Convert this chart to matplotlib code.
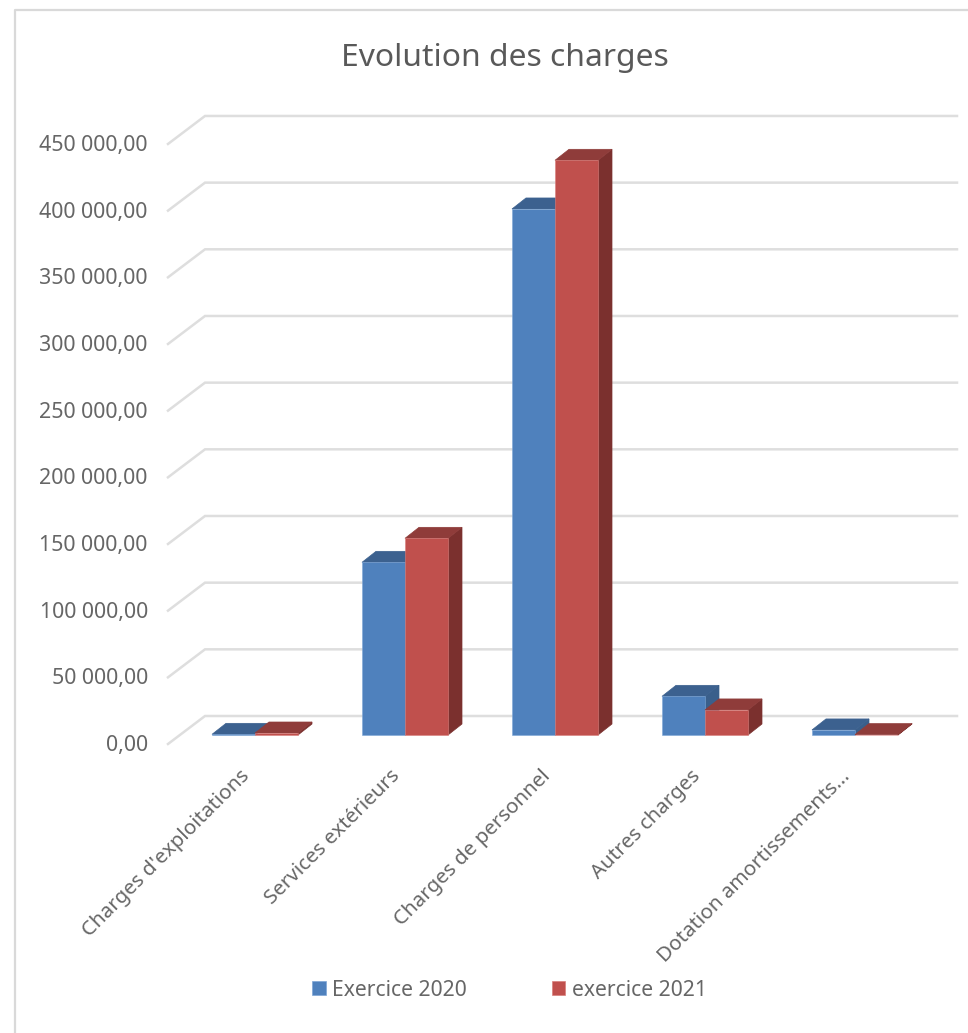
import matplotlib
matplotlib.use('Agg')
import matplotlib.pyplot as plt
from matplotlib.lines import Line2D
from matplotlib.patches import Patch, Polygon
from matplotlib.transforms import ScaledTranslation

plt.rcParams['font.family'] = ['Noto Sans', 'DejaVu Sans']

categories = ["Charges d'exploitations", "Services extérieurs", "Charges de personnel",
              "Autres charges", "Dotation amortissements..."]
exercice_2020 = [500, 129500, 394500, 29000, 3800]
exercice_2021 = [1500, 147500, 431000, 18800, 300]
grid_values = [0, 50000, 100000, 150000, 200000, 250000, 300000, 350000, 400000, 450000]
grid_labels = ['0,00', '50 000,00', '100 000,00', '150 000,00', '200 000,00',
               '250 000,00', '300 000,00', '350 000,00', '400 000,00', '450 000,00']

W, H = 968, 1033
TEXT = '#666666'
GRID = '#dedede'

# 1 category = 150 px, 50 000 = 66.67 px
px_x = 1 / 150
px_y = 50000 / 66.67

fig = plt.figure(figsize=(W / 100, H / 100), dpi=100)
fig.add_artist(Line2D([15.5 / W, 15.5 / W, 1], [0, 1 - 9.5 / H, 1 - 9.5 / H], color='#d9d9d9', lw=1.6))

ax = fig.add_axes([168 / W, 1 - 744 / H, (957 - 168) / W, (744 - 116) / H])
ax.set_xlim(-87 * px_x, 702 * px_x)
ax.set_ylim(0, 628 * px_y)
for s in ax.spines.values():
    s.set_visible(False)

# floor / wall depth of the fake 3d box
wall_dx = 37 * px_x
wall_dy = 28 * px_y
# bars sit in the middle of the floor
bar_w = 43 * px_x
bar_dx = 14 * px_x
bar_dy = 11 * px_y
base = 9 * px_y

for v in grid_values:
    ax.plot([-87 * px_x, -87 * px_x + wall_dx, 702 * px_x], [v, v + wall_dy, v + wall_dy],
            color=GRID, lw=1.8, clip_on=False, zorder=1, solid_joinstyle='miter')


def draw_bar(x0, val, front, top, side, edge):
    x1 = x0 + bar_w
    y0 = base
    y1 = base + val
    ax.add_patch(Polygon([(x1, y0), (x1 + bar_dx, y0 + bar_dy), (x1 + bar_dx, y1 + bar_dy), (x1, y1)],
                         fc=side, ec=side, lw=0.5, clip_on=False, zorder=3))
    ax.add_patch(Polygon([(x0, y1), (x0 + bar_dx, y1 + bar_dy), (x1 + bar_dx, y1 + bar_dy), (x1, y1)],
                         fc=top, ec=top, lw=0.5, clip_on=False, zorder=3))
    ax.add_patch(Polygon([(x0, y0), (x1, y0), (x1, y1), (x0, y1)],
                         fc=front, ec=edge, lw=0.4, clip_on=False, zorder=3))


for i in range(len(categories)):
    draw_bar(i - bar_w, exercice_2020[i], '#4f81bd', '#3c618f', '#3a5f8b', '#7ea6d6')
    draw_bar(i, exercice_2021[i], '#c0504d', '#8f3c3a', '#7b302e', '#d97f7c')

ax.set_yticks(grid_values)
ax.set_yticklabels(grid_labels, fontsize=15.4, color=TEXT)
ax.set_xticks(range(len(categories)))
ax.set_xticklabels(categories, fontsize=14.8, color=TEXT, rotation=45, ha='right',
                   va='top', rotation_mode='anchor')
ax.tick_params(axis='y', length=0, pad=14.5)
ax.tick_params(axis='x', length=0, pad=16)
shift = ScaledTranslation(-15 / 100, 0, fig.dpi_scale_trans)
for lab in ax.get_xticklabels():
    lab.set_transform(lab.get_transform() + shift)
shift_y = ScaledTranslation(0, 1 / 100, fig.dpi_scale_trans)
for lab in ax.get_yticklabels():
    lab.set_transform(lab.get_transform() + shift_y)

fig.text(504.5 / W, 1 - 58 / H, 'Evolution des charges', fontsize=22.9, color='#595959',
         ha='center', va='center')

handles = [Patch(fc='#4f81bd', ec='#7ea6d6', lw=0.5, label='Exercice 2020'),
           Patch(fc='#c0504d', ec='#d97f7c', lw=0.5, label='exercice 2021')]
fig.legend(handles=handles, ncols=2, loc='center', bbox_to_anchor=(509.5 / W, 1 - 990 / H),
           frameon=False, fontsize=15.2, labelcolor=TEXT, handlelength=0.65, handleheight=0.65,
           handletextpad=0.3, columnspacing=4.0)

fig.savefig('out.png', dpi=100)
